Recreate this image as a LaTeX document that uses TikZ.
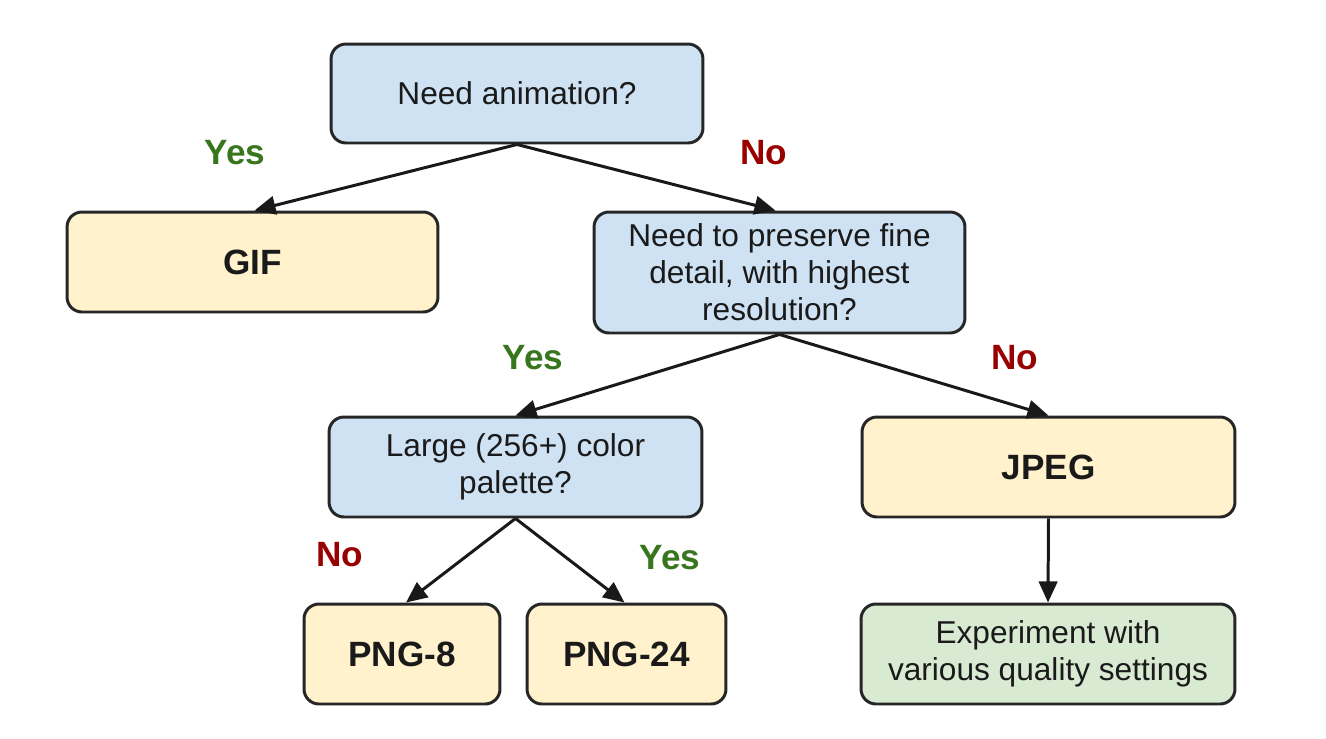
\documentclass[tikz,border=0pt]{standalone}
\usepackage{fontspec}
\setmainfont{Liberation Sans}
\usetikzlibrary{arrows.meta,calc}
\definecolor{qblue}{HTML}{CFE2F3}
\definecolor{ayellow}{HTML}{FFF2CC}
\definecolor{egreen}{HTML}{D9EAD3}
\definecolor{yesgreen}{HTML}{38761D}
\definecolor{nored}{HTML}{990000}
\definecolor{txt}{HTML}{1A1A1A}
\tikzset{
  box/.style={draw=black!85, line width=1.7pt, rounded corners=8.5pt, inner sep=0pt, align=center, text=txt},
  qbox/.style={box, fill=qblue, font=\fontsize{18}{21}\selectfont},
  abox/.style={box, fill=ayellow, font=\fontsize{20}{24}\selectfont\bfseries},
  ebox/.style={box, fill=egreen, font=\fontsize{18}{21}\selectfont},
  conn/.style={line width=1.7pt, draw=black!90, -{Triangle[length=12pt,width=10.5pt]}},
  yeslbl/.style={font=\fontsize{20}{24}\selectfont\bfseries, text=yesgreen},
  nolbl/.style={font=\fontsize{20}{24}\selectfont\bfseries, text=nored},
}
\begin{document}
\begin{tikzpicture}[x=0.02cm, y=-0.02cm]
\useasboundingbox (0,0) rectangle (1326,738);
\node[qbox, minimum width=7.44cm, minimum height=1.98cm] (top) at (517,93.5) {Need animation?};
\node[abox, minimum width=7.42cm, minimum height=2.0cm] (gif) at (252.5,262) {GIF};
\node[qbox, minimum width=7.42cm, minimum height=2.42cm] (q2) at (779.5,272.5) {Need to preserve fine\\detail, with highest\\resolution?};
\node[qbox, minimum width=7.46cm, minimum height=2.0cm] (q3) at (515.5,467) {Large (256+) color\\palette?};
\node[abox, minimum width=7.46cm, minimum height=2.0cm] (jpeg) at (1048.5,467) {JPEG};
\node[abox, minimum width=3.92cm, minimum height=2.0cm] (png8) at (402,654) {PNG-8};
\node[abox, minimum width=3.98cm, minimum height=2.0cm] (png24) at (626.5,654) {PNG-24};
\node[ebox, minimum width=7.48cm, minimum height=2.0cm] (exp) at (1048,654) {Experiment with\\various quality settings};

\draw[conn] (top.south) -- ($(gif.north)+(2,0)$);
\draw[conn] (top.south) -- ($(q2.north)+(-4,0)$);
\draw[conn] (q2.south) -- (q3.north);
\draw[conn] (q2.south) -- (jpeg.north);
\draw[conn] (q3.south) -- ($(png8.north)+(4,0)$);
\draw[conn] (q3.south) -- ($(png24.north)+(-2,0)$);
\draw[conn] (jpeg.south) -- (exp.north);

\node[yeslbl] (l1) at (235,153) {Yes};
\node[nolbl] (l2) at (764,153) {No};
\node[yeslbl] (l3) at (533,358) {Yes};
\node[nolbl] (l4) at (1015,358) {No};
\node[nolbl] (l5) at (340,555) {No};
\node[yeslbl] (l6) at (670,558) {Yes};
\end{tikzpicture}
\end{document}
